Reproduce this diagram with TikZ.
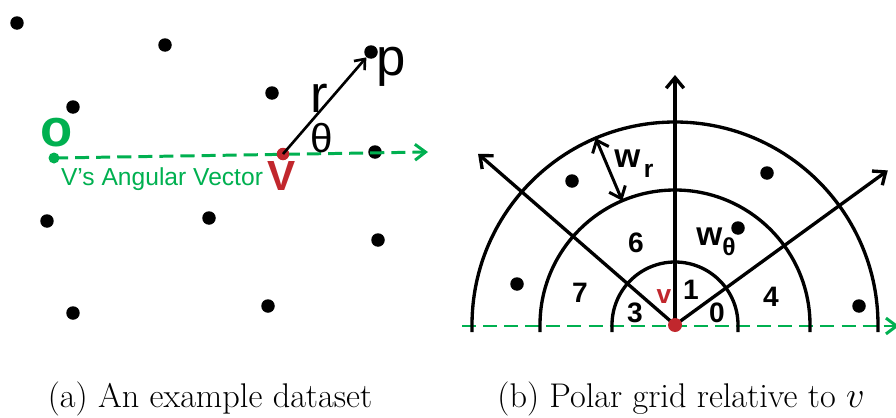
\documentclass[tikz,border=0pt]{standalone}
\usepackage{fontspec}
\newfontfamily\arial{Liberation Sans}
\usetikzlibrary{arrows.meta,calc}
\definecolor{VecGreen}{HTML}{00B050}
\definecolor{PtRed}{HTML}{C1272D}
\newcommand{\wsub}[2]{w\kern#2\raisebox{-6pt}{\fontsize{14}{14}\selectfont #1}}

\begin{document}
\begin{tikzpicture}[
    x=0.02cm, y=0.02cm,
    every node/.style={inner sep=0pt},
    dot/.style={circle, fill=black, minimum size=0.27cm},
    reddot/.style={circle, fill=PtRed, minimum size=0.28cm},
    gridline/.style={line width=1.9pt},
    ray/.style={-{Straight Barb[length=6pt, width=10pt]}, line width=1.9pt},
    vecline/.style={-{Straight Barb[length=6pt, width=9pt]}, dash pattern=on 8pt off 4pt, line width=1.7pt, color=VecGreen},
    lbl/.style={font=\arial\bfseries\fontsize{16}{16}\selectfont},
    wlbl/.style={font=\arial\bfseries\fontsize{19}{19}\selectfont, anchor=base west},
    caption/.style={font=\fontsize{19.5}{21}\selectfont, anchor=base}
  ]
    \useasboundingbox (0,0) rectangle (896,417);

    % Example dataset (left)
    \foreach \px/\py [count=\i] in {17/394, 165/372, 272/324, 73/310, 375/265, 47/196, 209/199, 378/177, 73/104, 268/111}
      \node[dot] (pt\i) at (\px,\py) {};
    \node[dot] (p) at (371,365) {};
    \node[circle, fill=VecGreen, minimum size=0.22cm] (o) at (54,259) {};
    \coordinate (vec_end) at (428,265);
    \draw[vecline] (o.center) -- (vec_end);
    \node[reddot, minimum size=0.25cm] (v) at (283,263) {};
    \draw[-{Straight Barb[length=5pt, width=8pt]}, line width=1.5pt] (v.center) -- (p);

    \node[font=\arial\bfseries\fontsize{30}{30}\selectfont, text=VecGreen] (o_lbl) at (57,284) {o};
    \node[font=\arial\bfseries\fontsize{24}{24}\selectfont, text=PtRed] (v_lbl) at (282,241) {V};
    \node[font=\arial\fontsize{14}{14}\selectfont, text=VecGreen, anchor=base] (vec_lbl) at (162,232) {V’s Angular Vector};
    \node[font=\arial\fontsize{30}{30}\selectfont] (r_lbl) at (319,319) {r};
    \node[font=\arial\fontsize{23}{23}\selectfont] (theta_lbl) at (322,279) {θ};
    \node[font=\arial\fontsize{30}{30}\selectfont] (p_lbl) at (391,350) {p};

    % Polar grid (right)
    \coordinate (c) at (675,92);
    \coordinate (axis_start) at (462,91);
    \coordinate (axis_end) at (899,91);
    \draw[vecline] (axis_start) -- (axis_end);
    \foreach \r in {63,135,203}
      \draw[gridline] ($(c)+(\r,-7)$) -- ++(0,7) arc[start angle=0, end angle=180, radius=\r] -- ++(0,-7);
    \coordinate (ray_up) at ($(c)+(90:250)$);
    \coordinate (ray_left) at ($(c)+(139:261)$);
    \coordinate (ray_right) at ($(c)+(36:263)$);
    \draw[ray] (c) -- (ray_up);
    \draw[ray] (c) -- (ray_left);
    \draw[ray] (c) -- (ray_right);
    \coordinate (wr_in) at ($(c)+(113:135)$);
    \coordinate (wr_out) at ($(c)+(113:203)$);
    \draw[{Straight Barb[length=6pt, width=10pt]}-{Straight Barb[length=6pt, width=10pt]}, line width=1.7pt] (wr_in) -- (wr_out);
    \node[reddot] (vc) at (c) {};

    \foreach \px/\py [count=\i] in {572/236, 767/244, 738/189, 517/133, 859/111}
      \node[dot] (q\i) at (\px,\py) {};

    \node[lbl] (cell6) at (636,174) {6};
    \node[lbl] (cell7) at (580,124) {7};
    \node[lbl] (cell1) at (691,127) {1};
    \node[lbl] (cell4) at (771,120) {4};
    \node[lbl] (cell3) at (635,104) {3};
    \node[lbl] (cell0) at (717,104) {0};
    \node[lbl, font=\arial\bfseries\fontsize{15}{15}\selectfont, text=PtRed] (vc_lbl) at (664,120) {v};
    \node[wlbl] (wr_lbl) at (614,250) {\wsub{r}{2pt}};
    \node[wlbl] (wt_lbl) at (696,172) {\wsub{θ}{0pt}};

    % Captions
    \node[caption] (cap_a) at (210,10) {(a) An example dataset};
    \node[caption] (cap_b) at (681,10) {(b) Polar grid relative to $v$};
\end{tikzpicture}
\end{document}
